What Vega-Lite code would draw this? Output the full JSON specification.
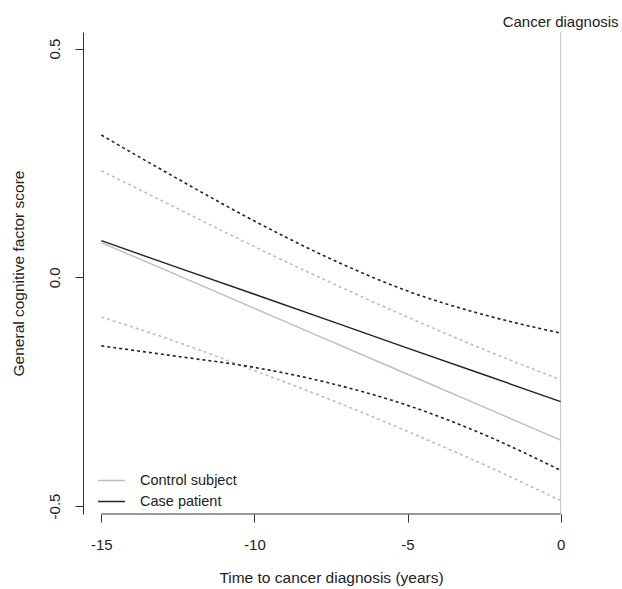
{
  "$schema": "https://vega.github.io/schema/vega-lite/v6.json",
  "width": 496,
  "height": 482,
  "autosize": {"type": "none"},
  "padding": {"left": 83, "top": 32, "right": 43, "bottom": 75},
  "background": "white",
  "config": {
    "view": {"stroke": null},
    "font": "Liberation Sans",
    "axis": {
      "grid": false,
      "labelFont": "Liberation Sans",
      "titleFont": "Liberation Sans",
      "labelFontSize": 15,
      "titleFontSize": 15.5,
      "titleFontWeight": "normal",
      "labelColor": "#222222",
      "titleColor": "#222222",
      "tickColor": "#333333",
      "domainColor": "#333333",
      "tickSize": 8,
      "tickWidth": 1,
      "domainWidth": 1
    },
    "legend": {
      "labelFont": "Liberation Sans",
      "labelFontSize": 14.5,
      "labelColor": "#222222"
    }
  },
  "datasets": {
    "curves": [
      {"t": -15, "series": "Case patient", "kind": "estimate", "value": 0.080},
      {"t": -12.5, "series": "Case patient", "kind": "estimate", "value": 0.021},
      {"t": -10, "series": "Case patient", "kind": "estimate", "value": -0.037},
      {"t": -7.5, "series": "Case patient", "kind": "estimate", "value": -0.096},
      {"t": -5, "series": "Case patient", "kind": "estimate", "value": -0.155},
      {"t": -2.5, "series": "Case patient", "kind": "estimate", "value": -0.213},
      {"t": 0, "series": "Case patient", "kind": "estimate", "value": -0.272},
      {"t": -15, "series": "Case patient", "kind": "upper", "value": 0.311},
      {"t": -12.5, "series": "Case patient", "kind": "upper", "value": 0.215},
      {"t": -10, "series": "Case patient", "kind": "upper", "value": 0.123},
      {"t": -7.5, "series": "Case patient", "kind": "upper", "value": 0.040},
      {"t": -5, "series": "Case patient", "kind": "upper", "value": -0.030},
      {"t": -2.5, "series": "Case patient", "kind": "upper", "value": -0.082},
      {"t": 0, "series": "Case patient", "kind": "upper", "value": -0.122},
      {"t": -15, "series": "Case patient", "kind": "lower", "value": -0.150},
      {"t": -12.5, "series": "Case patient", "kind": "lower", "value": -0.173},
      {"t": -10, "series": "Case patient", "kind": "lower", "value": -0.197},
      {"t": -7.5, "series": "Case patient", "kind": "lower", "value": -0.232},
      {"t": -5, "series": "Case patient", "kind": "lower", "value": -0.280},
      {"t": -2.5, "series": "Case patient", "kind": "lower", "value": -0.344},
      {"t": 0, "series": "Case patient", "kind": "lower", "value": -0.422},
      {"t": -15, "series": "Control subject", "kind": "estimate", "value": 0.076},
      {"t": -12.5, "series": "Control subject", "kind": "estimate", "value": 0.004},
      {"t": -10, "series": "Control subject", "kind": "estimate", "value": -0.068},
      {"t": -7.5, "series": "Control subject", "kind": "estimate", "value": -0.140},
      {"t": -5, "series": "Control subject", "kind": "estimate", "value": -0.212},
      {"t": -2.5, "series": "Control subject", "kind": "estimate", "value": -0.284},
      {"t": 0, "series": "Control subject", "kind": "estimate", "value": -0.356},
      {"t": -15, "series": "Control subject", "kind": "upper", "value": 0.233},
      {"t": -12.5, "series": "Control subject", "kind": "upper", "value": 0.150},
      {"t": -10, "series": "Control subject", "kind": "upper", "value": 0.067},
      {"t": -7.5, "series": "Control subject", "kind": "upper", "value": -0.012},
      {"t": -5, "series": "Control subject", "kind": "upper", "value": -0.087},
      {"t": -2.5, "series": "Control subject", "kind": "upper", "value": -0.158},
      {"t": 0, "series": "Control subject", "kind": "upper", "value": -0.224},
      {"t": -15, "series": "Control subject", "kind": "lower", "value": -0.087},
      {"t": -12.5, "series": "Control subject", "kind": "lower", "value": -0.142},
      {"t": -10, "series": "Control subject", "kind": "lower", "value": -0.204},
      {"t": -7.5, "series": "Control subject", "kind": "lower", "value": -0.268},
      {"t": -5, "series": "Control subject", "kind": "lower", "value": -0.337},
      {"t": -2.5, "series": "Control subject", "kind": "lower", "value": -0.410},
      {"t": 0, "series": "Control subject", "kind": "lower", "value": -0.488}
    ],
    "marker": [{"label": "Cancer diagnosis", "t": 0, "tstart": -15, "ybase": -0.5175, "ylabel": 0.558}]
  },
  "encoding": {
    "x": {
      "field": "t",
      "type": "quantitative",
      "scale": {"domain": [-15.6, 0.6], "nice": false, "zero": false},
      "axis": {
        "values": [-15, -10, -5, 0],
        "domain": false,
        "labelExpr": "'' + datum.value",
        "labelPadding": 15,
        "labelFlush": false,
        "title": "Time to cancer diagnosis (years)",
        "titlePadding": 18
      }
    },
    "y": {
      "field": "value",
      "type": "quantitative",
      "scale": {"domain": [-0.5175, 0.5363], "nice": false, "zero": false},
      "axis": {
        "values": [-0.5, 0, 0.5],
        "labelExpr": "replace(format(datum.value, '.1f'), '\u2212', '-')",
        "labelAngle": -90,
        "labelAlign": "center",
        "labelBaseline": "bottom",
        "labelPadding": 13,
        "labelFlush": false,
        "title": "General cognitive factor score",
        "titlePadding": 21
      }
    }
  },
  "layer": [
    {
      "data": {"name": "marker"},
      "mark": {"type": "rule", "color": "#c4c4c4", "strokeWidth": 1},
      "encoding": {"x": {"field": "t", "type": "quantitative"}, "y": null}
    },
    {
      "data": {"name": "marker"},
      "mark": {"type": "rule", "color": "#333333", "strokeWidth": 1},
      "encoding": {
        "x": {"field": "tstart", "type": "quantitative"},
        "x2": {"field": "t"},
        "y": {"field": "ybase", "type": "quantitative"}
      }
    },
    {
      "data": {"name": "curves"},
      "transform": [{"filter": "datum.kind !== 'estimate' && datum.series === 'Control subject'"}],
      "mark": {"type": "line", "strokeDash": [3, 3], "strokeWidth": 1.6, "interpolate": "monotone", "color": "#bdbdbd"},
      "encoding": {"detail": {"field": "kind"}}
    },
    {
      "data": {"name": "curves"},
      "transform": [{"filter": "datum.kind !== 'estimate' && datum.series === 'Case patient'"}],
      "mark": {"type": "line", "strokeDash": [3, 3], "strokeWidth": 1.6, "interpolate": "monotone", "color": "#222222"},
      "encoding": {"detail": {"field": "kind"}}
    },
    {
      "data": {"name": "curves"},
      "transform": [{"filter": "datum.kind === 'estimate'"}],
      "mark": {"type": "line", "strokeWidth": 1.4},
      "encoding": {
        "color": {
          "field": "series",
          "type": "nominal",
          "scale": {"domain": ["Control subject", "Case patient"], "range": ["#bdbdbd", "#222222"]},
          "sort": ["Control subject", "Case patient"],
          "legend": {
            "title": null,
            "orient": "none",
            "legendX": 14,
            "legendY": 434,
            "padding": 0,
            "symbolType": "stroke",
            "symbolSize": 729,
            "symbolStrokeWidth": 1.5,
            "labelOffset": 14,
            "rowPadding": -7
          }
        }
      }
    },
    {
      "data": {"name": "marker"},
      "mark": {"type": "text", "fontSize": 15, "color": "#222222", "font": "Liberation Sans", "baseline": "middle", "align": "center"},
      "encoding": {
        "x": {"field": "t", "type": "quantitative"},
        "y": {"field": "ylabel", "type": "quantitative"},
        "text": {"field": "label"}
      }
    }
  ]
}
